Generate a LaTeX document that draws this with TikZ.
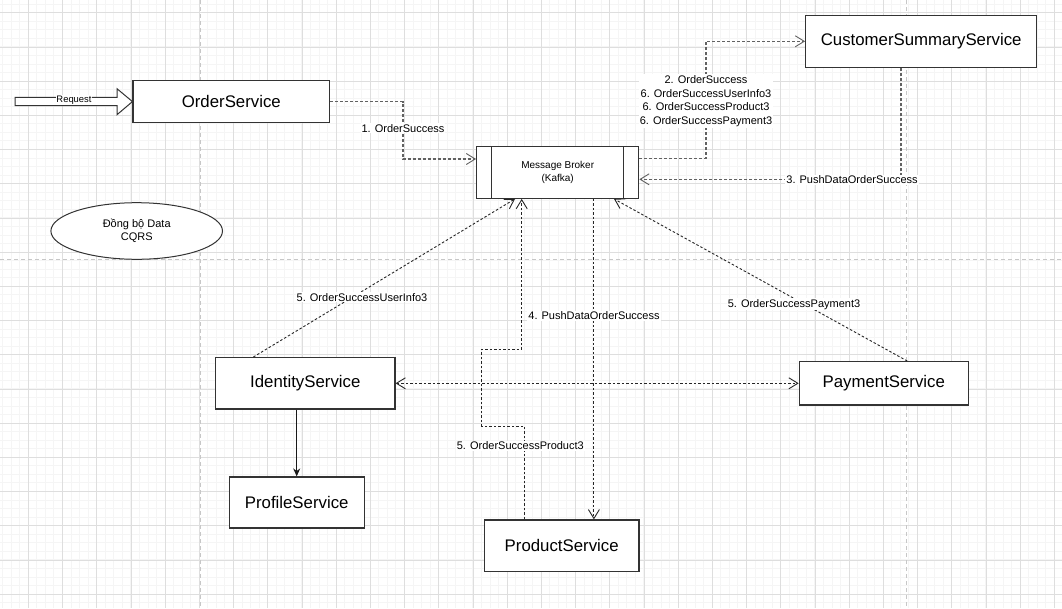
\documentclass[tikz,border=0pt]{standalone}
\usepackage{fontspec}
\setmainfont{Liberation Sans}
\usetikzlibrary{arrows.meta,shapes.geometric}
\begin{document}
\begin{tikzpicture}[x=1pt,y=-1pt,
  box/.style={draw=black!80, line width=1.2pt, fill=white, inner sep=0pt, font=\fontsize{16.8}{20}\selectfont},
  lbl/.style={fill=white, inner sep=1pt, font=\fontsize{11}{13.6}\selectfont, align=center},
  conn/.style={draw=black!85, line width=0.9pt, dash pattern=on 2.5pt off 2pt},
  gconn/.style={draw=black!62, line width=1.1pt, dash pattern=on 3pt off 2pt},
  opentip/.style={-{Straight Barb[length=9pt,width=11pt,line width=0.9pt]}},
  bothtip/.style={{Straight Barb[length=9pt,width=11pt,line width=0.9pt]}-{Straight Barb[length=9pt,width=11pt,line width=0.9pt]}},
  minorg/.style={draw=black!4, line width=1pt},
  majorg/.style={draw=black!13, line width=0.7pt},
  pagebreak/.style={draw=black!22, line width=1pt, dash pattern=on 4pt off 3pt}
]
\useasboundingbox (0,0) rectangle (1062,608);
\fill[white] (0,0) rectangle (1062,608);
% grid
\foreach \i in {0,...,125} { \draw[minorg] ({-5.9+8.55*\i},0) -- ({-5.9+8.55*\i},608); }
\foreach \i in {0,...,72} { \draw[minorg] (0,{-4.4+8.55*\i}) -- (1062,{-4.4+8.55*\i}); }
\foreach \i in {0,...,31} { \draw[majorg] ({-5.9+34.2*\i},0) -- ({-5.9+34.2*\i},608); }
\foreach \i in {0,...,18} { \draw[majorg] (0,{-21.5+34.2*\i}) -- (1062,{-21.5+34.2*\i}); }
\draw[pagebreak] (200,0) -- (200,608);
\draw[pagebreak] (906,0) -- (906,608);
\draw[pagebreak] (0,259) -- (1062,259);

% nodes
\node[box, minimum width=196.5pt, minimum height=42.2pt] (os) at (231.3,101.6) {OrderService};
\node[box, minimum width=162pt, minimum height=51.6pt, font=\fontsize{10}{12.5}\selectfont, align=center] (mb) at (557.7,172.5) {Message Broker\\(Kafka)};
\draw[black!80, line width=1.2pt] ([xshift=15.6pt]mb.north west) -- ([xshift=15.6pt]mb.south west);
\draw[black!80, line width=1.2pt] ([xshift=-16pt]mb.north east) -- ([xshift=-16pt]mb.south east);
\node[box, minimum width=231pt, minimum height=52pt] (css) at (921.2,41.3) {CustomerSummaryService};
\node[draw=black!80, line width=1pt, fill=white, ellipse, minimum width=171.6pt, minimum height=56.6pt, inner sep=0pt, align=center, font=\fontsize{11}{12.7}\selectfont] (cq) at (136.7,231) {Đồng bộ Data\\CQRS};
\node[box, minimum width=179.3pt, minimum height=51.3pt] (id) at (305.3,383.3) {IdentityService};
\node[box, minimum width=169pt, minimum height=43.3pt] (pay) at (883.8,383.3) {PaymentService};
\node[box, minimum width=154.7pt, minimum height=51.7pt] (pd) at (561.7,545.8) {ProductService};
\node[box, minimum width=135pt, minimum height=51pt] (pf) at (296.7,502.5) {ProfileService};

% Request block arrow
\draw[black!80, line width=1pt, fill=white] (15,97.3) -- (117,97.3) -- (117,88.7) -- (os.west) -- (117,114.7) -- (117,105.7) -- (15,105.7) -- cycle;
\node[fill=white, inner sep=0.3pt, font=\fontsize{9.4}{11}\selectfont] (rq) at (74,100) {Request};

% 1
\draw[gconn, opentip] (os.east) -- (403,101.6) -- (403,159) -- ([yshift=13.5pt]mb.west);
\node[lbl] (l1) at (403,128.3) {1. OrderSuccess};
% 2
\draw[gconn, opentip] ([yshift=14.2pt]mb.east) -- (706,158.3) -- (706,41.3) -- (css.west);
\node[lbl] (l2) at (706,101) {2. OrderSuccess\\6. OrderSuccessUserInfo3\\6. OrderSuccessProduct3\\6. OrderSuccessPayment3};
% 3
\draw[gconn, opentip] ([xshift=-20.2pt]css.south) -- (901,179.3) -- ([yshift=-6.8pt]mb.east);
\node[lbl] (l3) at (852,180) {3. PushDataOrderSuccess};
% 4
\draw[conn, opentip] ([xshift=36.2pt]mb.south) -- ([xshift=32.2pt]pd.north);
\node[lbl] (l4) at (594,316) {4. PushDataOrderSuccess};
% 5a
\draw[conn, opentip] ([xshift=-52pt]id.north) -- ([xshift=-42.7pt]mb.south);
\node[lbl] (l5a) at (362,297.3) {5. OrderSuccessUserInfo3};
% 5b
\draw[conn, opentip] ([xshift=-37.4pt]pd.north) -- (524.3,426) -- (481.7,426) -- (481.7,349.3) -- (521.7,349.3) -- ([xshift=-36pt]mb.south);
\node[lbl] (l5b) at (520.3,446) {5. OrderSuccessProduct3};
% 5c
\draw[conn, opentip] ([xshift=23.5pt]pay.north) -- ([xshift=56.3pt]mb.south);
\node[lbl] (l5c) at (794,304.3) {5. OrderSuccessPayment3};
% 6
\draw[conn, bothtip] (id.east) -- (pay.west);
% 7
\draw[black!90, line width=1pt, -{Stealth[length=8pt,width=7pt]}] ([xshift=-8.6pt]id.south) -- (pf.north);
\end{tikzpicture}
\end{document}
